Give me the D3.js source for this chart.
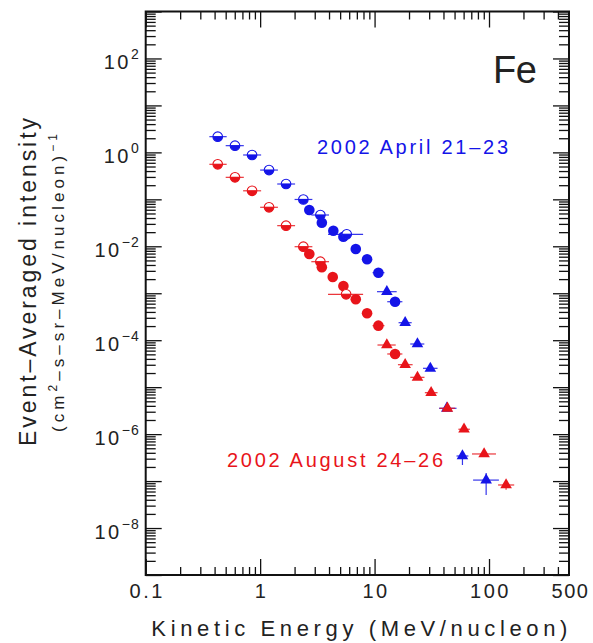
<!DOCTYPE html>
<html><head><meta charset="utf-8">
<script src="https://cdn.jsdelivr.net/npm/d3@7"></script>
<style>body{margin:0;background:#fff}</style>
</head><body><svg id="c" width="593" height="643"></svg>
<script>
// ---- data ----
const blueE = [0.426,0.603,0.850,1.196,1.684,2.386,2.69,3.36,3.46,4.36,5.34,5.71,6.85,8.60,10.8,12.8,15.1,18.5,23.7,30.7,42.8,58.6,94.4];
const blueI = [2.16,1.39,0.88,0.42,0.212,0.0993,0.0593,0.0464,0.0318,0.0215,0.016,0.018,0.00877,0.00528,0.00274,0.00108,0.00066,0.000236,8.3e-5,2.52e-5,3.55e-6,3.42e-7,1.05e-7];
const blueMarker = ["h","h","h","h","h","h","f","h","f","f","f","h","f","f","f","t","f","t","t","t","t","t","t"];
const blueELo = [0.36,0.50,0.71,1.0,1.41,2.0,2.55,2.8,3.3,4.1,5.0,3.92,6.4,8.1,9.6,10.5,12.9,16.2,20.5,26.5,36.6,52,72.6];
const blueEHi = [0.51,0.72,1.02,1.43,2.02,2.86,2.85,4.0,3.65,4.65,5.7,7.94,7.35,9.2,12.2,15.6,17.5,21.1,27.2,35.5,52,66,122];
const blueILo = [null,null,null,null,null,null,null,null,null,null,null,null,null,null,null,null,null,null,null,null,null,2.2e-7,5.06e-8];
const blueIHi = [null,null,null,null,null,null,null,null,null,null,null,null,null,null,null,null,null,null,null,null,null,4.2e-7,1.49e-7];

const redE = [0.426,0.603,0.850,1.196,1.684,2.386,2.69,3.36,3.46,4.31,5.34,5.64,6.85,8.60,10.8,12.8,15.1,18.5,23.7,31.2,43.3,60.5,90.6,141];
const redI = [0.557,0.294,0.152,0.0677,0.0275,0.0098,0.00686,0.0047,0.00357,0.00222,0.00143,0.00095,0.000743,0.000374,0.000204,7.9e-5,5.09e-5,3.01e-5,1.62e-5,7.63e-6,3.55e-6,1.27e-6,3.78e-7,8.26e-8];
const redMarker = ["h","h","h","h","h","h","f","h","f","f","f","h","f","f","f","t","f","t","t","t","t","t","t","t"];
const redELo = [0.36,0.50,0.71,1.0,1.41,2.0,2.55,2.8,3.3,4.0,5.0,3.92,6.4,8.1,9.6,10.6,12.9,16.0,20.5,27.5,37,54,71,120];
const redEHi = [0.51,0.72,1.02,1.43,2.02,2.86,2.85,4.0,3.65,4.65,5.7,7.94,7.35,9.2,12.2,15.3,17.5,21.5,27.3,35.5,50.5,68,115,166];
const redILo = [null,null,null,null,null,null,null,null,null,null,null,null,null,null,null,null,null,null,null,null,null,null,3.3e-7,6.5e-8];
const redIHi = [null,null,null,null,null,null,null,null,null,null,null,null,null,null,null,null,null,null,null,null,null,null,null,null];

const xLabelVals = [0.1,1,10,100,500];
const xTickLabels = ["0.1","1","10","100","500"];
const yLabelExp = [2,0,-2,-4,-6,-8];
const seriesNames = ["2002 April 21–23","2002 August 24–26"];
const elementName = "Fe";

// ---- scales ----
const svg = d3.select("#c");
const x = d3.scaleLog().domain([0.1,500]).range([145.7,569]);
const y = d3.scaleLog().domain([1e-9,1e3]).range([575,11.5]);
const X0 = x.range()[0], X1 = x.range()[1], Y0 = y.range()[0], Y1 = y.range()[1];

const xMajor = [0.1,1,10,100];
const xMinor = [];
[0.1,1,10,100].forEach(d=>{for(let k=2;k<=9;k++){const v=d*k; if(v<500) xMinor.push(v);}});
const yMajor = d3.range(-9,4).map(e=>Math.pow(10,e));
const yMinor = [];
d3.range(-9,3).forEach(e=>{for(let k=2;k<=9;k++) yMinor.push(k*Math.pow(10,e));});

const ax = svg.append("g").attr("class","axes");
function tickAxis(gen, tr){
  const g = ax.append("g").attr("transform",tr).call(gen);
  g.select(".domain").remove();
  g.selectAll("line").attr("stroke","#111").attr("stroke-width",1.3);
  return g;
}
tickAxis(d3.axisBottom(x).tickValues(xMajor).tickSize(-16).tickSizeOuter(0).tickFormat(""), `translate(0,${Y0})`);
tickAxis(d3.axisBottom(x).tickValues(xMinor).tickSize(-8).tickSizeOuter(0).tickFormat(""), `translate(0,${Y0})`);
tickAxis(d3.axisTop(x).tickValues(xMajor).tickSize(-16).tickSizeOuter(0).tickFormat(""), `translate(0,${Y1})`);
tickAxis(d3.axisTop(x).tickValues(xMinor).tickSize(-8).tickSizeOuter(0).tickFormat(""), `translate(0,${Y1})`);
tickAxis(d3.axisLeft(y).tickValues(yMajor).tickSize(-16).tickSizeOuter(0).tickFormat(""), `translate(${X0},0)`);
tickAxis(d3.axisLeft(y).tickValues(yMinor).tickSize(-10).tickSizeOuter(0).tickFormat(""), `translate(${X0},0)`);
tickAxis(d3.axisRight(y).tickValues(yMajor).tickSize(-16).tickSizeOuter(0).tickFormat(""), `translate(${X1},0)`);
tickAxis(d3.axisRight(y).tickValues(yMinor).tickSize(-10).tickSizeOuter(0).tickFormat(""), `translate(${X1},0)`);

ax.append("rect").attr("x",X0).attr("y",Y1).attr("width",X1-X0).attr("height",Y0-Y1)
  .attr("fill","none").attr("stroke","#111").attr("stroke-width",2);

const FONT = "'Liberation Sans', Arial, sans-serif";
const xl = ax.append("g").attr("transform",`translate(0,${Y0})`)
  .call(d3.axisBottom(x).tickValues(xLabelVals).tickSize(0).tickPadding(9).tickFormat((d,i)=>xTickLabels[i]));
xl.select(".domain").remove();
xl.selectAll("text").attr("font-family",FONT).attr("font-size",20).attr("fill","#222")
  .attr("letter-spacing",(d,i)=>i===xLabelVals.length-1?"1.5px":"2.5px").attr("dx","1");

const yLabelVals = yLabelExp.map(e=>Math.pow(10,e));
const yl = ax.append("g").attr("transform",`translate(${X0},0)`)
  .call(d3.axisLeft(y).tickValues(yLabelVals).tickSize(0).tickPadding(6).tickFormat(""));
yl.select(".domain").remove();
yl.selectAll("text").each(function(d,i){
  const t = d3.select(this).attr("font-family",FONT).attr("fill","#222").attr("dy",null)
    .attr("font-size",20).attr("letter-spacing","2.5px").attr("y",10);
  t.append("tspan").text("10");
  const e = yLabelExp[i];
  t.append("tspan").attr("font-size",14).attr("dy",-10).attr("letter-spacing","1px").text(e<0?("−"+(-e)):String(e));
});

svg.append("text").attr("x",(X0+X1)/2+2).attr("y",636).attr("text-anchor","middle")
  .attr("font-family",FONT).attr("font-size",22).attr("fill","#222")
  .attr("textLength",416).attr("lengthAdjust","spacing").text("Kinetic Energy (MeV/nucleon)");

svg.append("text").attr("transform","translate(36,282) rotate(-90)").attr("text-anchor","middle")
  .attr("font-family",FONT).attr("font-size",23).attr("fill","#222")
  .attr("textLength",328).attr("lengthAdjust","spacing").text("Event–Averaged intensity");

const t2 = svg.append("text").attr("transform","translate(64,283) rotate(-90)").attr("text-anchor","middle")
  .attr("font-family",FONT).attr("font-size",17).attr("fill","#222")
  .attr("textLength",298).attr("lengthAdjust","spacing");
t2.append("tspan").text("(cm");
t2.append("tspan").attr("font-size",12).attr("dy",-7).text("2");
t2.append("tspan").attr("dy",7).text("–s–sr–MeV/nucleon)");
t2.append("tspan").attr("font-size",12).attr("dy",-7).text("−1");

svg.append("text").attr("x",493).attr("y",83).attr("font-family",FONT).attr("font-size",38)
  .attr("fill","#222").attr("textLength",44).attr("lengthAdjust","spacing").text(elementName);

const BLUE = "#1414e8", RED = "#e8141a";
svg.append("text").attr("x",317).attr("y",154).attr("font-family",FONT).attr("font-size",20)
  .attr("fill",BLUE).attr("textLength",191).attr("lengthAdjust","spacing").text(seriesNames[0]);
svg.append("text").attr("x",227).attr("y",467).attr("font-family",FONT).attr("font-size",20)
  .attr("fill",RED).attr("textLength",216).attr("lengthAdjust","spacing").text(seriesNames[1]);

function drawSeries(E,I,M,ELo,EHi,ILo,IHi,color){
  const data = E.map((e,i)=>({e,i:I[i],m:M[i],lo:ELo[i],hi:EHi[i],ilo:ILo[i],ihi:IHi[i]}));
  const g = svg.append("g");
  g.selectAll("line.h").data(data).join("line").attr("class","h")
    .attr("x1",d=>x(d.lo)).attr("x2",d=>x(d.hi)).attr("y1",d=>y(d.i)).attr("y2",d=>y(d.i))
    .attr("stroke",color).attr("stroke-width",1.2).attr("opacity",0.85);
  g.selectAll("line.v").data(data.filter(d=>d.ilo!=null||d.ihi!=null)).join("line").attr("class","v")
    .attr("x1",d=>x(d.e)).attr("x2",d=>x(d.e))
    .attr("y1",d=>y(d.ilo!=null?d.ilo:d.i)).attr("y2",d=>y(d.ihi!=null?d.ihi:d.i))
    .attr("stroke",color).attr("stroke-width",1.2).attr("opacity",0.85);
  const mk = g.selectAll("g.m").data(data).join("g").attr("class","m")
    .attr("transform",d=>`translate(${x(d.e)},${y(d.i)})`);
  mk.filter(d=>d.m==="f").append("circle").attr("r",5.3).attr("fill",color);
  mk.filter(d=>d.m==="t").append("path").attr("d",d3.symbol(d3.symbolTriangle,58)()).attr("fill",color);
  const h = mk.filter(d=>d.m==="h");
  h.append("circle").attr("r",4.8).attr("fill","#fff").attr("stroke",color).attr("stroke-width",1.1);
  h.append("path").attr("d","M-4.8,0 A4.8,4.8 0 0 0 4.8,0 Z").attr("fill",color);
  h.append("line").attr("x1",-4.8).attr("x2",4.8).attr("stroke",color).attr("stroke-width",1.2);
}
drawSeries(blueE,blueI,blueMarker,blueELo,blueEHi,blueILo,blueIHi,BLUE);
drawSeries(redE,redI,redMarker,redELo,redEHi,redILo,redIHi,RED);
</script>
</body></html>
